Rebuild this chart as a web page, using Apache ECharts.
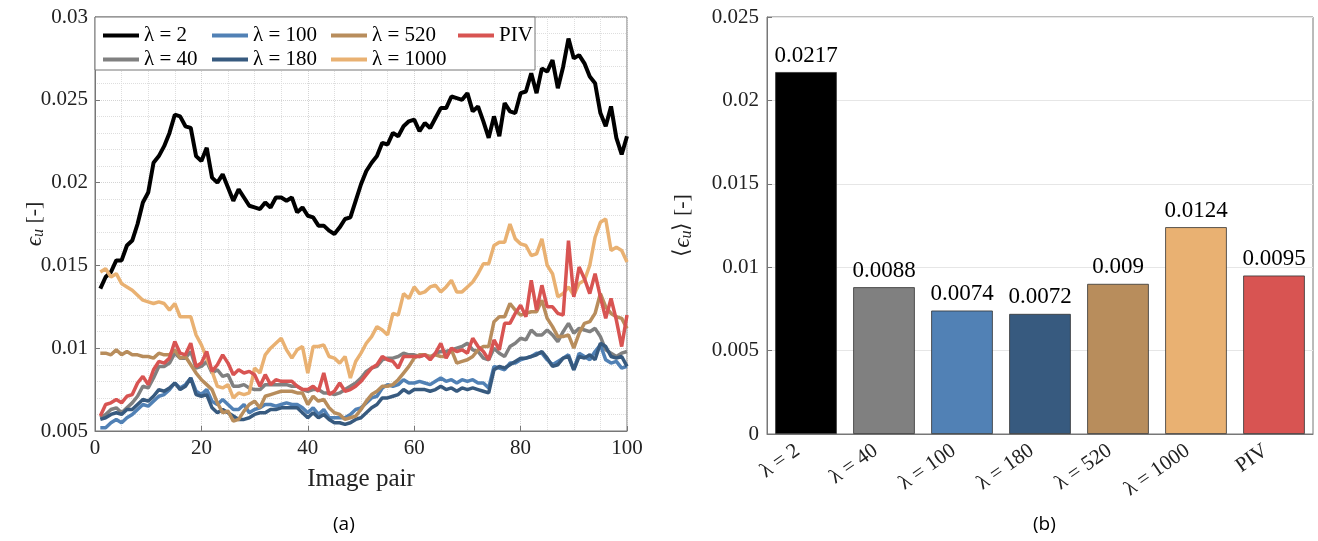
<!DOCTYPE html>
<html>
<head>
<meta charset="utf-8">
<script src="https://cdn.jsdelivr.net/npm/echarts@6/dist/echarts.min.js"></script>
<style>
  html, body { margin: 0; padding: 0; background: #fff; }
  #chart { width: 1318px; height: 541px; }
</style>
</head>
<body>
<div id="chart"></div>
<script>
// left panel: error per image pair (pairs 1..100)
const lam2 = [
  0.0136, 0.0143, 0.0146, 0.0153, 0.0153, 0.0162, 0.0165, 0.0175, 0.0188, 0.0194,
  0.0212, 0.0216, 0.0222, 0.0230, 0.0241, 0.0240, 0.0234, 0.0233, 0.0216, 0.0213,
  0.0221, 0.0203, 0.0200, 0.0205, 0.0197, 0.0189, 0.0196, 0.0191, 0.0186, 0.0185,
  0.0184, 0.0188, 0.0185, 0.0191, 0.0191, 0.0189, 0.0191, 0.0182, 0.0185, 0.0180,
  0.0179, 0.0174, 0.0174, 0.0171, 0.0169, 0.0173, 0.0178, 0.0179, 0.0189, 0.0199,
  0.0207, 0.0212, 0.0216, 0.0224, 0.0223, 0.0230, 0.0228, 0.0234, 0.0237, 0.0238,
  0.0231, 0.0236, 0.0233, 0.0239, 0.0245, 0.0245, 0.0252, 0.0251, 0.0250, 0.0254,
  0.0243, 0.0246, 0.0237, 0.0227, 0.0240, 0.0228, 0.0248, 0.0243, 0.0242, 0.0254,
  0.0255, 0.0266, 0.0254, 0.0269, 0.0267, 0.0274, 0.0257, 0.0270, 0.0287, 0.0275,
  0.0277, 0.0272, 0.0264, 0.0260, 0.0242, 0.0234, 0.0246, 0.0227, 0.0217, 0.0228
];
const lam40 = [
  0.0058, 0.0060, 0.0063, 0.0064, 0.0061, 0.0064, 0.0067, 0.0071, 0.0077, 0.0076,
  0.0082, 0.0089, 0.0089, 0.0091, 0.0097, 0.0094, 0.0094, 0.0098, 0.0088, 0.0089,
  0.0092, 0.0085, 0.0087, 0.0083, 0.0084, 0.0077, 0.0077, 0.0078, 0.0076, 0.0075,
  0.0075, 0.0078, 0.0078, 0.0078, 0.0078, 0.0078, 0.0077, 0.0077, 0.0075, 0.0074,
  0.0075, 0.0075, 0.0073, 0.0073, 0.0072, 0.0073, 0.0075, 0.0077, 0.0079, 0.0082,
  0.0086, 0.0088, 0.0089, 0.0093, 0.0094, 0.0094, 0.0095, 0.0097, 0.0096, 0.0096,
  0.0095, 0.0096, 0.0094, 0.0097, 0.0098, 0.0098, 0.0099, 0.0100, 0.0101, 0.0103,
  0.0099, 0.0098, 0.0094, 0.0093, 0.0100, 0.0097, 0.0095, 0.0101, 0.0103, 0.0106,
  0.0105, 0.0111, 0.0108, 0.0108, 0.0111, 0.0108, 0.0104, 0.0110, 0.0115, 0.0109,
  0.0112, 0.0111, 0.0110, 0.0112, 0.0107, 0.0099, 0.0097, 0.0095, 0.0097, 0.0098
];
const lam100 = [
  0.0052, 0.0052, 0.0055, 0.0057, 0.0055, 0.0058, 0.0060, 0.0063, 0.0066, 0.0065,
  0.0068, 0.0071, 0.0072, 0.0075, 0.0079, 0.0076, 0.0078, 0.0082, 0.0074, 0.0072,
  0.0075, 0.0068, 0.0066, 0.0069, 0.0066, 0.0063, 0.0063, 0.0066, 0.0061, 0.0063,
  0.0064, 0.0066, 0.0066, 0.0065, 0.0066, 0.0067, 0.0066, 0.0066, 0.0064, 0.0061,
  0.0064, 0.0060, 0.0063, 0.0058, 0.0058, 0.0058, 0.0058, 0.0060, 0.0063, 0.0064,
  0.0067, 0.0070, 0.0071, 0.0076, 0.0078, 0.0077, 0.0078, 0.0081, 0.0079, 0.0079,
  0.0080, 0.0079, 0.0078, 0.0080, 0.0082, 0.0080, 0.0081, 0.0079, 0.0081, 0.0080,
  0.0081, 0.0079, 0.0079, 0.0076, 0.0089, 0.0088, 0.0087, 0.0091, 0.0091, 0.0093,
  0.0094, 0.0095, 0.0097, 0.0097, 0.0093, 0.0090, 0.0092, 0.0094, 0.0096, 0.0087,
  0.0097, 0.0095, 0.0093, 0.0098, 0.0102, 0.0093, 0.0091, 0.0092, 0.0088, 0.0089
];
const lam180 = [
  0.0057, 0.0058, 0.0060, 0.0061, 0.0060, 0.0063, 0.0063, 0.0066, 0.0069, 0.0068,
  0.0071, 0.0075, 0.0074, 0.0076, 0.0079, 0.0075, 0.0077, 0.0082, 0.0072, 0.0071,
  0.0072, 0.0064, 0.0061, 0.0063, 0.0061, 0.0059, 0.0057, 0.0057, 0.0058, 0.0060,
  0.0061, 0.0061, 0.0063, 0.0063, 0.0064, 0.0064, 0.0064, 0.0064, 0.0061, 0.0058,
  0.0061, 0.0058, 0.0060, 0.0057, 0.0055, 0.0055, 0.0054, 0.0055, 0.0057, 0.0058,
  0.0061, 0.0064, 0.0066, 0.0070, 0.0070, 0.0071, 0.0072, 0.0075, 0.0073, 0.0075,
  0.0075, 0.0075, 0.0074, 0.0075, 0.0077, 0.0075, 0.0076, 0.0074, 0.0076, 0.0075,
  0.0076, 0.0075, 0.0074, 0.0073, 0.0087, 0.0089, 0.0088, 0.0090, 0.0092, 0.0094,
  0.0094, 0.0095, 0.0096, 0.0098, 0.0094, 0.0089, 0.0090, 0.0094, 0.0095, 0.0087,
  0.0095, 0.0094, 0.0096, 0.0093, 0.0103, 0.0101, 0.0095, 0.0094, 0.0095, 0.0089
];
const lam520 = [
  0.0097, 0.0097, 0.0096, 0.0099, 0.0096, 0.0098, 0.0096, 0.0096, 0.0095, 0.0095,
  0.0094, 0.0097, 0.0096, 0.0096, 0.0099, 0.0094, 0.0095, 0.0090, 0.0085, 0.0081,
  0.0078, 0.0075, 0.0067, 0.0061, 0.0062, 0.0056, 0.0057, 0.0062, 0.0066, 0.0068,
  0.0064, 0.0071, 0.0072, 0.0073, 0.0074, 0.0074, 0.0074, 0.0073, 0.0073, 0.0066,
  0.0071, 0.0068, 0.0069, 0.0064, 0.0061, 0.0060, 0.0057, 0.0058, 0.0059, 0.0063,
  0.0068, 0.0072, 0.0074, 0.0077, 0.0077, 0.0078, 0.0081, 0.0085, 0.0089, 0.0094,
  0.0096, 0.0096, 0.0095, 0.0096, 0.0095, 0.0095, 0.0099, 0.0091, 0.0092, 0.0093,
  0.0095, 0.0099, 0.0101, 0.0101, 0.0116, 0.0119, 0.0119, 0.0127, 0.0123, 0.0120,
  0.0121, 0.0122, 0.0122, 0.0129, 0.0118, 0.0113, 0.0107, 0.0107, 0.0108, 0.0100,
  0.0109, 0.0115, 0.0116, 0.0121, 0.0133, 0.0125, 0.0121, 0.0119, 0.0118, 0.0112
];
const lam1000 = [
  0.0146, 0.0148, 0.0143, 0.0145, 0.0139, 0.0137, 0.0135, 0.0132, 0.0129, 0.0128,
  0.0127, 0.0128, 0.0127, 0.0123, 0.0127, 0.0119, 0.0119, 0.0119, 0.0108, 0.0102,
  0.0094, 0.0086, 0.0077, 0.0076, 0.0078, 0.0070, 0.0073, 0.0072, 0.0073, 0.0088,
  0.0085, 0.0096, 0.0100, 0.0103, 0.0106, 0.0099, 0.0094, 0.0099, 0.0101, 0.0085,
  0.0101, 0.0101, 0.0102, 0.0095, 0.0094, 0.0091, 0.0095, 0.0082, 0.0092, 0.0097,
  0.0103, 0.0107, 0.0113, 0.0111, 0.0108, 0.0121, 0.0120, 0.0133, 0.0130, 0.0137,
  0.0133, 0.0134, 0.0137, 0.0138, 0.0134, 0.0137, 0.0141, 0.0134, 0.0134, 0.0137,
  0.0140, 0.0145, 0.0151, 0.0151, 0.0162, 0.0164, 0.0164, 0.0175, 0.0166, 0.0163,
  0.0162, 0.0156, 0.0157, 0.0166, 0.0150, 0.0145, 0.0131, 0.0133, 0.0137, 0.0132,
  0.0139, 0.0141, 0.0150, 0.0167, 0.0176, 0.0178, 0.0159, 0.0161, 0.0159, 0.0152
];
const piv = [
  0.0059, 0.0066, 0.0067, 0.0069, 0.0067, 0.0071, 0.0072, 0.0079, 0.0083, 0.0078,
  0.0087, 0.0092, 0.0091, 0.0094, 0.0104, 0.0097, 0.0096, 0.0103, 0.0089, 0.0091,
  0.0098, 0.0086, 0.0090, 0.0096, 0.0091, 0.0084, 0.0087, 0.0085, 0.0086, 0.0084,
  0.0077, 0.0084, 0.0078, 0.0081, 0.0080, 0.0080, 0.0080, 0.0077, 0.0075, 0.0075,
  0.0077, 0.0074, 0.0085, 0.0072, 0.0074, 0.0079, 0.0074, 0.0075, 0.0077, 0.0080,
  0.0084, 0.0088, 0.0090, 0.0095, 0.0093, 0.0092, 0.0088, 0.0095, 0.0095, 0.0095,
  0.0095, 0.0096, 0.0093, 0.0097, 0.0103, 0.0094, 0.0100, 0.0098, 0.0099, 0.0097,
  0.0106, 0.0101, 0.0098, 0.0093, 0.0105, 0.0099, 0.0115, 0.0115, 0.0121, 0.0126,
  0.0119, 0.0141, 0.0123, 0.0138, 0.0125, 0.0125, 0.0121, 0.0120, 0.0165, 0.0131,
  0.0149, 0.0142, 0.0133, 0.0145, 0.0131, 0.0118, 0.0130, 0.0117, 0.0101, 0.0120
];

// right panel: mean error per case
const cases = ['λ = 2', 'λ = 40', 'λ = 100', 'λ = 180', 'λ = 520', 'λ = 1000', 'PIV'];
const means = [0.0217, 0.0088, 0.0074, 0.0072, 0.009, 0.0124, 0.0095];
const colors = ['#000000', '#808080', '#5181b5', '#375a7f', '#b88d5c', '#e9b172', '#d85452'];

const lineSeries = [lam2, lam40, lam100, lam180, lam520, lam1000, piv];

const serif = "'Liberation Serif', 'Times New Roman', serif";
const tickFmt = v => String(parseFloat(v.toFixed(4)));

let chart = echarts.init(document.getElementById('chart'));

let series = lineSeries.map((vals, k) => ({
  name: cases[k],
  type: 'line',
  xAxisIndex: 0,
  yAxisIndex: 0,
  symbol: 'none',
  animation: false,
  lineStyle: {color: colors[k], width: k === 0 ? 4 : 3.5},
  itemStyle: {color: colors[k]},
  data: vals.map((v, i) => [i + 1, v])
}));

series.push({
  type: 'bar',
  xAxisIndex: 1,
  yAxisIndex: 1,
  animation: false,
  barCategoryGap: '21%',
  data: means.map((v, k) => ({value: v, itemStyle: {color: colors[k]}})),
  itemStyle: {borderColor: '#333', borderWidth: 0.8},
  label: {show: true, position: 'top', distance: 5, color: '#000',
    fontFamily: serif, fontSize: 23}
});

const legendBase = {
  orient: 'vertical', top: 20, itemGap: 3, itemWidth: 36, itemHeight: 14,
  z: 20, icon: 'path://M0,0 L36,0 L36,4 L0,4 Z',
  textStyle: {fontFamily: serif, fontSize: 21, color: '#000', lineHeight: 20}
};

const nameRich = {
  e: {fontFamily: serif, fontSize: 23, fontStyle: 'italic', color: '#222'},
  s: {fontFamily: serif, fontSize: 16, fontStyle: 'italic', color: '#222', verticalAlign: 'bottom', padding: [9, 0, 0, 0]}
};

let options = {
  backgroundColor: '#fff',
  animation: false,
  textStyle: {fontFamily: serif},
  title: [
    {text: '(a)', left: 328, top: 510, textStyle: {fontFamily: 'Open Sans', fontSize: 19, fontWeight: 'normal', color: '#000'}},
    {text: '(b)', left: 1028, top: 510, textStyle: {fontFamily: 'Open Sans', fontSize: 19, fontWeight: 'normal', color: '#000'}}
  ],
  legend: [
    Object.assign({left: 98, data: [cases[0], cases[1]]}, legendBase),
    Object.assign({left: 207, data: [cases[2], cases[3]]}, legendBase),
    Object.assign({left: 326, data: [cases[4], cases[5]]}, legendBase),
    Object.assign({left: 453, data: [cases[6]]}, legendBase)
  ],
  graphic: [{
    type: 'rect', z: 15,
    shape: {x: 95, y: 17, width: 440, height: 53},
    style: {fill: '#fff', stroke: '#777', lineWidth: 1}
  }],
  grid: [
    {left: 95, top: 17, right: 691, bottom: 110, show: true, borderColor: '#777', borderWidth: 1},
    {left: 767, top: 17, right: 5, bottom: 107, show: true, borderColor: '#777', borderWidth: 1}
  ],
  xAxis: [{
    gridIndex: 0, type: 'value', min: 0, max: 100, interval: 20,
    name: 'Image pair', nameLocation: 'middle', nameGap: 36, nameMoveOverlap: false,
    nameTextStyle: {fontFamily: serif, fontSize: 25, color: '#222'},
    axisLine: {lineStyle: {color: '#777'}},
    axisTick: {inside: true, length: 5, lineStyle: {color: '#777'}},
    axisLabel: {fontFamily: serif, fontSize: 21, color: '#222', margin: 7},
    splitLine: {show: true, lineStyle: {color: '#d4d4d4', type: 'dotted'}},
    minorTick: {show: true, splitNumber: 4, length: 0},
    minorSplitLine: {show: true, lineStyle: {color: '#dedede', type: 'dotted'}}
  }, {
    gridIndex: 1, type: 'category', data: cases,
    axisLine: {lineStyle: {color: '#777'}},
    axisTick: {inside: true, alignWithLabel: true, length: 4, lineStyle: {color: '#777'}},
    axisLabel: {fontFamily: serif, fontSize: 21, color: '#222', rotate: 35, margin: 9,
      interval: 0, padding: [0, 10, 0, 0]}
  }],
  yAxis: [{
    gridIndex: 0, type: 'value', min: 0.005, max: 0.03, interval: 0.005,
    name: '{e|ϵ}{s|u} [-]', nameLocation: 'middle', nameGap: 48, nameMoveOverlap: false,
    nameTextStyle: {fontFamily: serif, fontSize: 22, color: '#222', rich: nameRich},
    axisLine: {show: true, lineStyle: {color: '#777'}},
    axisTick: {show: true, inside: true, length: 5, lineStyle: {color: '#777'}},
    axisLabel: {fontFamily: serif, fontSize: 21, color: '#222', margin: 7, formatter: tickFmt},
    splitLine: {show: true, lineStyle: {color: '#d4d4d4', type: 'dotted'}},
    minorTick: {show: true, splitNumber: 5, length: 0},
    minorSplitLine: {show: true, lineStyle: {color: '#dedede', type: 'dotted'}}
  }, {
    gridIndex: 1, type: 'value', min: 0, max: 0.025, interval: 0.005,
    name: '⟨{e|ϵ}{s|u}⟩ [-]', nameLocation: 'middle', nameGap: 72, nameMoveOverlap: false,
    nameTextStyle: {fontFamily: serif, fontSize: 22, color: '#222', rich: nameRich},
    axisLine: {show: true, lineStyle: {color: '#777'}},
    axisTick: {show: true, inside: true, length: 5, lineStyle: {color: '#777'}},
    axisLabel: {fontFamily: serif, fontSize: 21, color: '#222', margin: 8, formatter: tickFmt},
    splitLine: {show: true, lineStyle: {color: '#e6e6e6'}}
  }],
  series: series
};

chart.setOption(options);
</script>
</body>
</html>
